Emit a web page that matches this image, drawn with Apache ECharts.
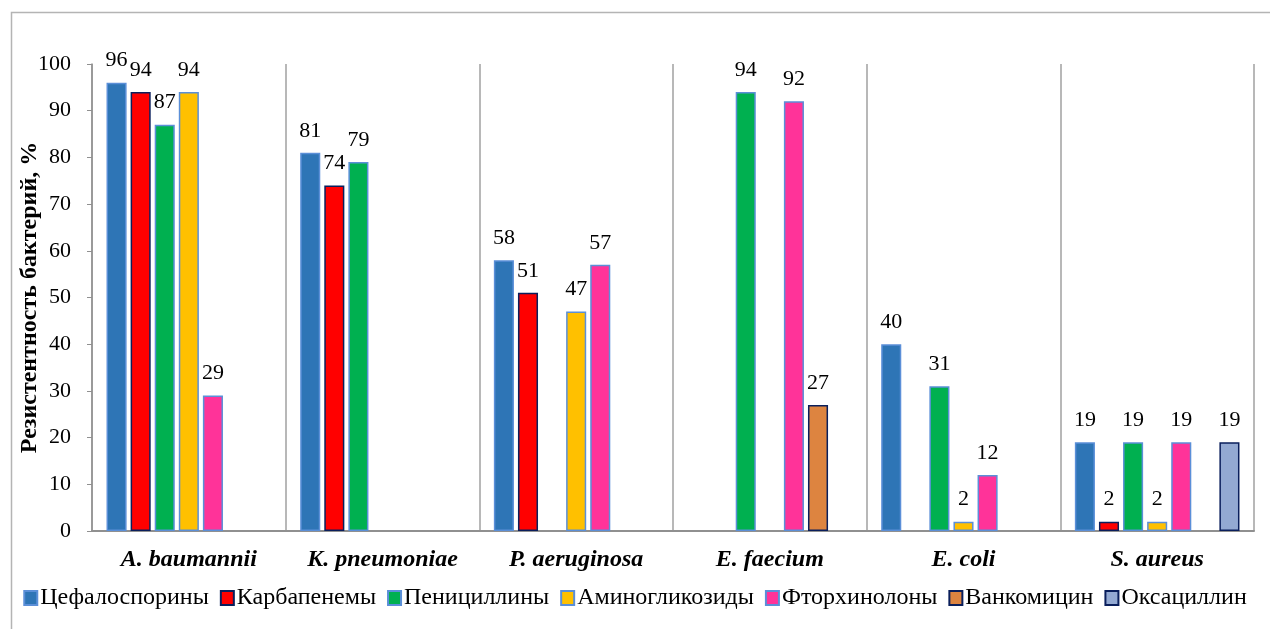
<!DOCTYPE html>
<html>
<head>
<meta charset="utf-8">
<script src="https://cdn.jsdelivr.net/npm/echarts@6/dist/echarts.min.js"></script>
<style>
html,body{margin:0;padding:0;background:#fff;}
#chart{width:1270px;height:629px;}
</style>
</head>
<body>
<div id="chart"></div>
<script>
var categories = ['A. baumannii', 'K. pneumoniae', 'P. aeruginosa', 'E. faecium', 'E. coli', 'S. aureus'];
var seriesNames = ['Цефалоспорины', 'Карбапенемы', 'Пенициллины', 'Аминогликозиды', 'Фторхинолоны', 'Ванкомицин', 'Оксациллин'];
var cephalosporins = [96, 81, 58, null, 40, 19];
var carbapenems = [94, 74, 51, null, null, 2];
var penicillins = [87, 79, null, 94, 31, 19];
var aminoglycosides = [94, null, 47, null, 2, 2];
var fluoroquinolones = [29, null, 57, 92, 12, 19];
var vancomycin = [null, null, null, 27, null, null];
var oxacillin = [null, null, null, null, null, 19];
var yTicks = [0, 10, 20, 30, 40, 50, 60, 70, 80, 90, 100];

var values = [cephalosporins, carbapenems, penicillins, aminoglycosides, fluoroquinolones, vancomycin, oxacillin];
var fills = ['#2E75B6', '#FF0000', '#00B050', '#FFC000', '#FF3399', '#DD8440', '#93A9D2'];
var borders = ['#5B8FD8', '#0A1F5C', '#5B8FD8', '#5B8FD8', '#5B8FD8', '#0A1F5C', '#0A1F5C'];
var serif = '"Liberation Serif", "Times New Roman", serif';

var chart = echarts.init(document.getElementById('chart'));
var series = seriesNames.map(function (n, i) {
  return {
    name: n,
    type: 'bar',
    data: values[i],
    barGap: '20%',
    barCategoryGap: '15%',
    itemStyle: { color: fills[i], borderColor: borders[i], borderWidth: 1.5 },
    label: {
      show: true, position: 'top', distance: 11,
      fontFamily: serif, fontSize: 22, color: '#000'
    }
  };
});

chart.setOption({
  animation: false,
  backgroundColor: '#fff',
  graphic: [{
    type: 'rect', left: 9, top: 10,
    shape: { width: 1400, height: 800 },
    style: { fill: 'none', stroke: '#B4B4B4', lineWidth: 1.5 },
    silent: true
  }],
  grid: { left: 92, right: 16, top: 64, bottom: 98, containLabel: false, outerBoundsMode: 'none' },
  legend: {
    bottom: 14, left: 'center',
    itemWidth: 13, itemHeight: 14, itemGap: 11,
    icon: 'rect',
    textStyle: { fontFamily: serif, fontSize: 24, color: '#000', padding: [0, 0, 0, -2] },
    data: seriesNames
  },
  xAxis: {
    type: 'category',
    data: categories,
    axisLine: { lineStyle: { color: '#909090', width: 2 } },
    axisTick: { show: false },
    splitLine: { show: true, interval: 0, lineStyle: { color: '#A0A0A0', width: 1.5 } },
    axisLabel: {
      interval: 0, margin: 17, fontFamily: serif, fontSize: 24, fontWeight: 'bold', fontStyle: 'italic', color: '#000'
    }
  },
  yAxis: {
    type: 'value', min: 0, max: 100, interval: 10,
    name: 'Резистентность бактерий, %',
    nameLocation: 'middle', nameGap: 50, nameMoveOverlap: false,
    nameTextStyle: { fontFamily: serif, fontSize: 24, fontWeight: 'bold', color: '#000' },
    axisLine: { show: true, lineStyle: { color: '#909090', width: 1.5 } },
    axisTick: { show: true, length: 5, lineStyle: { color: '#909090' } },
    splitLine: { show: false },
    axisLabel: {
      margin: 21, fontFamily: serif, fontSize: 22, color: '#000',
      formatter: function (v) { return yTicks.indexOf(v) >= 0 ? String(v) : ''; }
    }
  },
  series: series
});
</script>
</body>
</html>
